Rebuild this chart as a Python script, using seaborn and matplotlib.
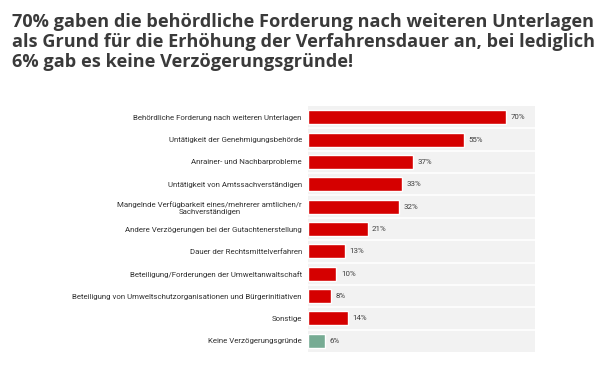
import pandas as pd
import numpy as np
from matplotlib import pyplot as plt
import seaborn as sns


categories = [
    'Behördliche Forderung nach weiteren Unterlagen',
    'Untätigkeit der Genehmigungsbehörde',
    'Anrainer- und Nachbarprobleme',
    'Untätigkeit von Amtssachverständigen',
    'Mangelnde Verfügbarkeit eines/mehrerer amtlichen/r\nSachverständigen',
    'Andere Verzögerungen bei der Gutachtenerstellung',
    'Dauer der Rechtsmittelverfahren',
    'Beteiligung/Forderungen der Umweltanwaltschaft',
    'Beteiligung von Umweltschutzorganisationen und Bürgerinitiativen',
    'Sonstige',
    'Keine Verzögerungsgründe',
]
values = [70, 55, 37, 33, 32, 21, 13, 10, 8, 14, 6]
groups = ['Grund'] * 10 + ['Keine']
palette = {'Grund': '#d50000', 'Keine': '#76ab93'}

title_lines = [
    '70% gaben die behördliche Forderung nach weiteren Unterlagen',
    'als Grund für die Erhöhung der Verfahrensdauer an, bei lediglich',
    '6% gab es keine Verzögerungsgründe!',
]


def draw_chart():
    """Balkendiagramm der Verzögerungsgründe"""
    df = pd.DataFrame({'Grund': categories, 'Anteil': values, 'Gruppe': groups})

    sns.set_style('white')
    plt.rcParams['font.family'] = ['Roboto', 'DejaVu Sans']

    fig = plt.figure(figsize=(6.13, 3.67), dpi=100)
    ax = fig.add_axes([0.5025, 0.041, 0.370, 0.670])
    ax.set_facecolor('#f2f2f2')

    sns.barplot(data=df, x='Anteil', y='Grund', hue='Gruppe', palette=palette,
                dodge=False, width=0.62, legend=False, ax=ax, saturation=1)

    for i in range(len(categories) - 1):
        ax.axhline(i + 0.5, color='white', lw=1.2, zorder=0.5)

    for i, v in enumerate(values):
        ax.text(v + 1.6, i, f'{v}%', va='center', ha='left',
                fontsize=5.7, color='#404040')

    ax.set_xlim(0, 80)
    ax.set_ylim(len(categories) - 0.5, -0.5)
    ax.set_xlabel('')
    ax.set_ylabel('')
    ax.set_xticks([])
    ax.tick_params(axis='y', length=0, pad=4.5, labelsize=5.7, labelcolor='#333333')
    for lab in ax.get_yticklabels():
        lab.set_multialignment('center')
        lab.set_linespacing(1.35)
    for s in ax.spines.values():
        s.set_visible(False)

    # Titel zeilenweise, Grundlinien bei 26.7 / 46.7 / 66.7 px
    for k, line in enumerate(title_lines):
        fig.text(0.019, 1 - (26.7 + 20 * k) / 367, line, ha='left', va='baseline',
                 fontsize=13.1, fontweight='bold', color='#3a3a3a',
                 family='Open Sans')

    fig.savefig('out.png', dpi=100)


if __name__ == '__main__':
    draw_chart()
